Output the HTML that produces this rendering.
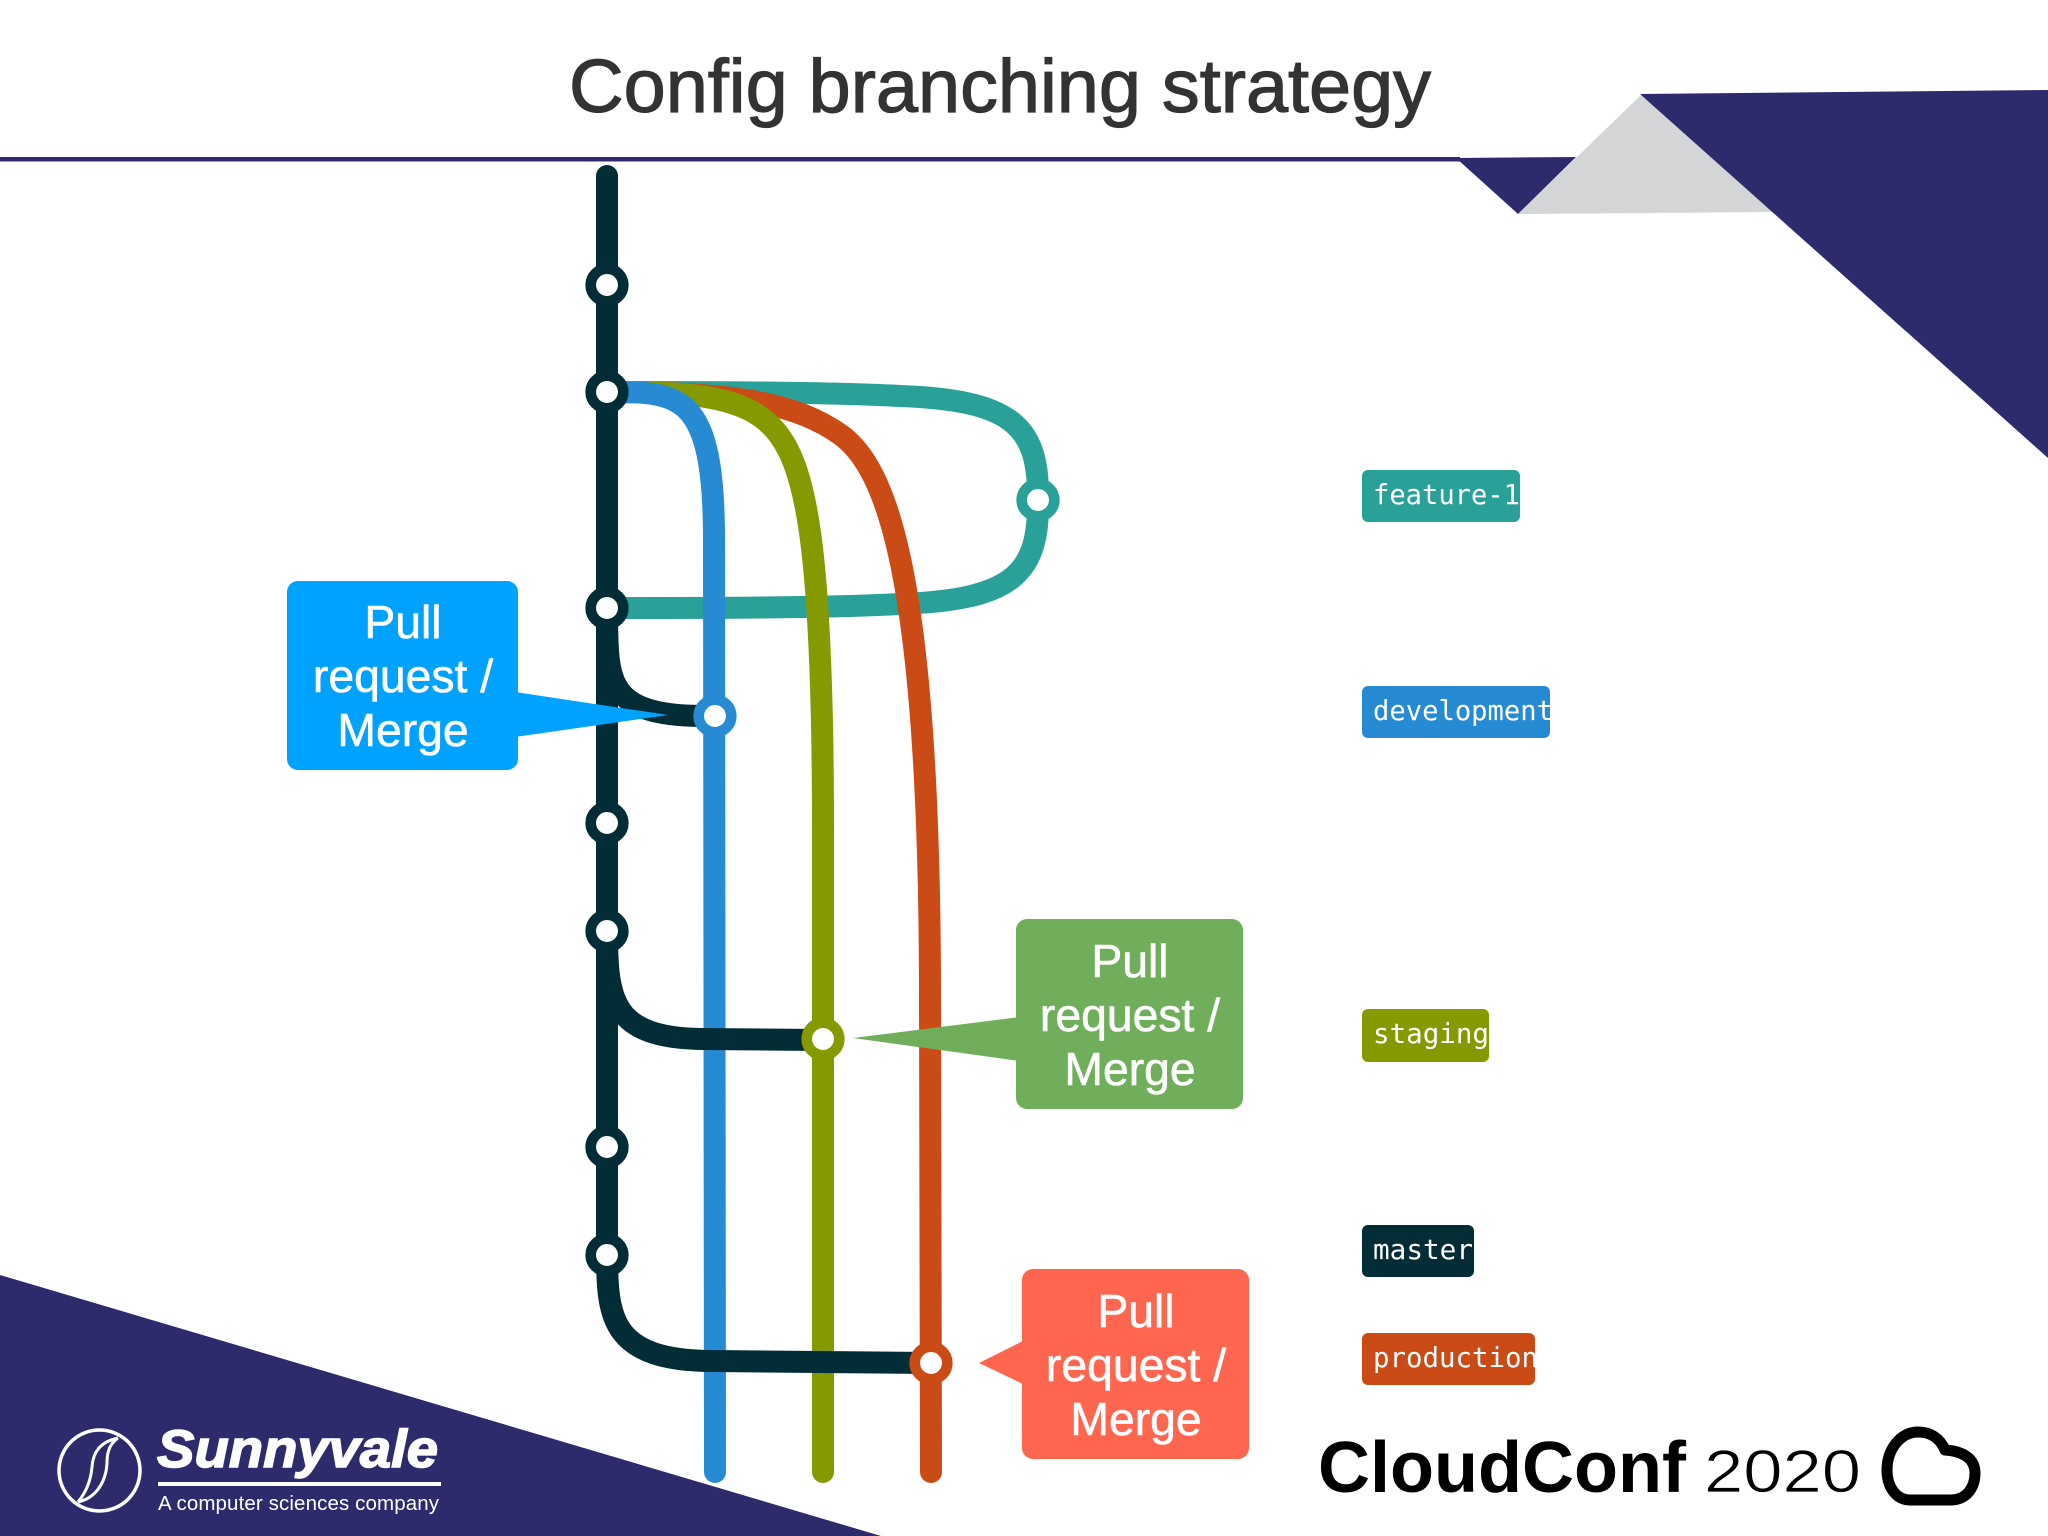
<!DOCTYPE html>
<html>
<head>
<meta charset="utf-8">
<style>
html,body{margin:0;padding:0;background:#fff;width:2048px;height:1536px;overflow:hidden}
svg{display:block}
text{font-family:"Liberation Sans",sans-serif}
.lbl{font-family:"DejaVu Sans Mono","Liberation Mono",monospace;font-size:28px;fill:#fff}
.call{font-size:46.300px;fill:#fff;stroke:#fff;stroke-width:.6px;text-anchor:middle}
</style>
</head>
<body>
<svg width="2048" height="1536" viewBox="0 0 2048 1536" xmlns="http://www.w3.org/2000/svg">
<defs>
<clipPath id="c1"><rect x="1362" y="470" width="158" height="52" rx="6"/></clipPath>
<clipPath id="c2"><rect x="1362" y="686" width="188" height="52" rx="6"/></clipPath>
<clipPath id="c3"><rect x="1362" y="1009" width="127" height="53" rx="6"/></clipPath>
<clipPath id="c4"><rect x="1362" y="1225" width="112" height="52" rx="6"/></clipPath>
<clipPath id="c5"><rect x="1362" y="1333" width="173" height="52" rx="6"/></clipPath>
</defs>
<rect width="2048" height="1536" fill="#fff"/>

<!-- header -->
<text x="569" y="112" font-size="75" fill="#333" stroke="#333" stroke-width="1.200" textLength="862" lengthAdjust="spacingAndGlyphs">Config branching strategy</text>
<rect x="0" y="157" width="1460" height="4.500" fill="#2e2b6d"/>
<polygon points="1456,158 1576,157 1518,214" fill="#2e2b6d"/>
<polygon points="1641,95 1518,214 1775,212" fill="#d4d5d6"/>
<polygon points="1640,94 2048,90 2048,458" fill="#2e2b6d"/>

<!-- footer left -->
<polygon points="0,1275 881,1536 0,1536" fill="#2e2b6d"/>
<circle cx="99.500" cy="1470.500" r="40.500" fill="none" stroke="#fff" stroke-width="3.500"/>
<path d="M78 1502 C88 1490 91 1478 92 1467 C93 1452 100 1442 118 1438" fill="none" stroke="#fff" stroke-width="3"/>
<path d="M118 1438 C108 1445 107 1455 107 1463 C106 1482 96 1498 78 1502" fill="none" stroke="#fff" stroke-width="3"/>
<text x="157" y="1467" font-size="53" font-weight="bold" font-style="italic" fill="#fff" stroke="#fff" stroke-width="1.500" textLength="281" lengthAdjust="spacingAndGlyphs">Sunnyvale</text>
<rect x="158" y="1482" width="283" height="4" fill="#fff"/>
<text x="158" y="1510" font-size="20.500" fill="#fff" textLength="281">A computer sciences company</text>

<!-- branches -->
<g fill="none" stroke-linecap="round" stroke-width="22">
<path d="M607 392 C700 392 830 392 900 396 C1010 400 1038 425 1038 495 L1038 505 C1038 575 1010 600 900 604 C830 608 700 608 607 608" stroke="#2aa198"/>
<path d="M607 392 C730 392 795 402 841 435 C885 467 930 570 930 1000 L931 1472" stroke="#cb4b16"/>
<path d="M607 392 C690 392 745 395 775 430 C805 465 823 540 823 830 L823 1472" stroke="#859900"/>
<path d="M607 392 C680 392 714 392 714 540 L715 1472" stroke="#268bd2"/>
<path d="M607 176 L607 1255" stroke="#022c36"/>
<path d="M607 620 C608 680 607 715 700 716 L715 716" stroke="#022c36"/>
<path d="M607 931 C607 1000 612 1037 700 1039 L823 1040" stroke="#022c36"/>
<path d="M607 1255 C607 1320 613 1360 711 1361 L931 1363" stroke="#022c36"/>
</g>

<!-- commits -->
<g fill="#fff" stroke-width="10.700">
<g stroke="#022c36">
<circle cx="607" cy="285" r="16.300"/>
<circle cx="607" cy="392" r="16.300"/>
<circle cx="607" cy="608" r="16.300"/>
<circle cx="607" cy="823" r="16.300"/>
<circle cx="607" cy="931" r="16.300"/>
<circle cx="607" cy="1147" r="16.300"/>
<circle cx="607" cy="1255" r="16.300"/>
</g>
<circle cx="1038" cy="500" r="16.300" stroke="#2aa198"/>
<circle cx="715" cy="716" r="16.300" stroke="#268bd2"/>
<circle cx="823" cy="1039" r="16.300" stroke="#859900"/>
<circle cx="931" cy="1363" r="16.300" stroke="#cb4b16"/>
</g>

<!-- callouts -->
<rect x="287" y="581" width="231" height="189" rx="11" fill="#00a2ff"/>
<polygon points="515,692 668,715 515,737" fill="#00a2ff"/>
<text class="call" x="403" y="638">Pull</text>
<text class="call" x="403" y="692">request /</text>
<text class="call" x="403" y="746">Merge</text>

<rect x="1016" y="919" width="227" height="190" rx="11" fill="#70ae5c"/>
<polygon points="1020,1017 853,1038 1020,1061" fill="#70ae5c"/>
<text class="call" x="1130" y="977">Pull</text>
<text class="call" x="1130" y="1031">request /</text>
<text class="call" x="1130" y="1085">Merge</text>

<rect x="1022" y="1269" width="227" height="190" rx="11" fill="#ff6650"/>
<polygon points="1025,1340 979,1363 1025,1385" fill="#ff6650"/>
<text class="call" x="1136" y="1327">Pull</text>
<text class="call" x="1136" y="1381">request /</text>
<text class="call" x="1136" y="1435">Merge</text>

<!-- labels -->
<rect x="1362" y="470" width="158" height="52" rx="6" fill="#2aa198"/>
<g clip-path="url(#c1)"><text class="lbl" x="1373" y="504" textLength="147" lengthAdjust="spacingAndGlyphs">feature-1</text></g>
<rect x="1362" y="686" width="188" height="52" rx="6" fill="#268bd2"/>
<g clip-path="url(#c2)"><text class="lbl" x="1373" y="720" textLength="180" lengthAdjust="spacingAndGlyphs">development</text></g>
<rect x="1362" y="1009" width="127" height="53" rx="6" fill="#859900"/>
<g clip-path="url(#c3)"><text class="lbl" x="1373" y="1043" textLength="116" lengthAdjust="spacingAndGlyphs">staging</text></g>
<rect x="1362" y="1225" width="112" height="52" rx="6" fill="#022c36"/>
<g clip-path="url(#c4)"><text class="lbl" x="1373" y="1259" textLength="100" lengthAdjust="spacingAndGlyphs">master</text></g>
<rect x="1362" y="1333" width="173" height="52" rx="6" fill="#cb4b16"/>
<g clip-path="url(#c5)"><text class="lbl" x="1373" y="1367" textLength="165" lengthAdjust="spacingAndGlyphs">production</text></g>

<!-- CloudConf -->
<text x="1318" y="1492" font-size="72" font-weight="bold" fill="#000" textLength="368" lengthAdjust="spacingAndGlyphs">CloudConf</text>
<text x="1704" y="1492" font-size="60" fill="#000" stroke="#fff" stroke-width=".8" textLength="157" lengthAdjust="spacingAndGlyphs">2020</text>
<path d="M1910 1500 H1950 C1968 1500 1975 1486 1975 1473 C1975 1458 1962 1451 1945 1450 C1940 1438 1930 1432 1918 1432 C1900 1432 1887 1450 1887 1470 C1887 1488 1897 1500 1910 1500 Z" fill="none" stroke="#000" stroke-width="11" stroke-linejoin="round"/>
</svg>
</body>
</html>
